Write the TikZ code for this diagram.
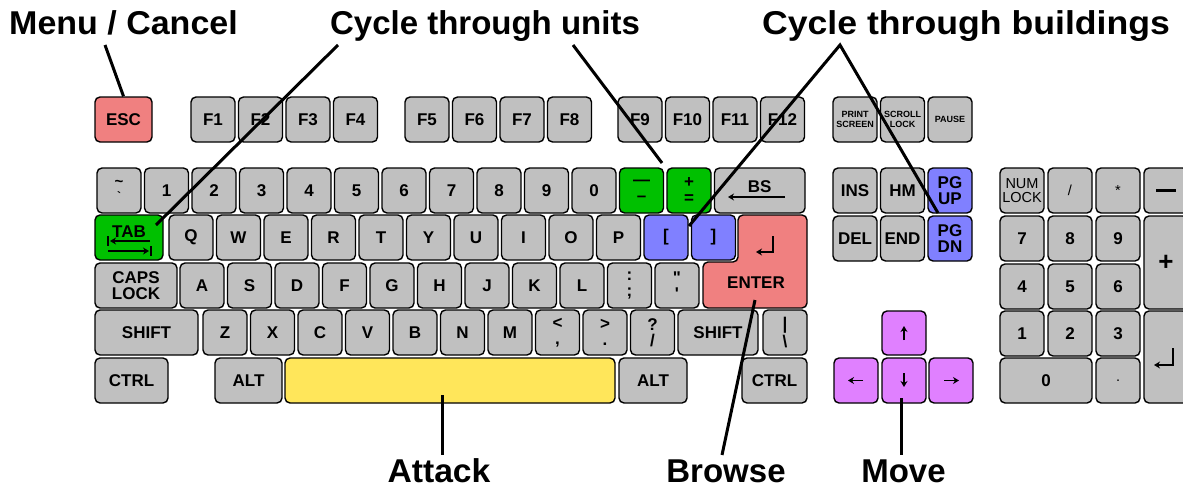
\documentclass[tikz,border=0pt]{standalone}
\usepackage{fontspec}
\setmainfont{Liberation Sans}
\usetikzlibrary{arrows.meta}
\definecolor{kgray}{RGB}{192,192,192}
\definecolor{kred}{RGB}{240,128,128}
\definecolor{kgreen}{RGB}{0,192,0}
\definecolor{kblue}{RGB}{128,128,255}
\definecolor{kyellow}{RGB}{255,230,90}
\definecolor{kviolet}{RGB}{224,128,255}
\tikzset{
 keybox/.style={draw=black, line width=1.4pt, rounded corners=5pt, fill=kgray, inner sep=0pt, align=center, font=\bfseries\fontsize{17}{16}\selectfont},
 keyshape/.style={draw=black, line width=1.4pt, rounded corners=5pt},
 keytext/.style={inner sep=0pt, align=center, font=\bfseries\fontsize{17}{16}\selectfont},
 smallkey/.style={font=\bfseries\fontsize{9}{10}\selectfont},
 regkey/.style={font=\fontsize{14.5}{14}\selectfont},
 conn/.style={line width=3pt, black},
 lbl/.style={font=\bfseries\fontsize{33}{33}\selectfont, inner sep=0pt},
 glyph/.style={line width=1.8pt, -{Stealth[length=6pt,width=7pt]}},
 plainglyph/.style={line width=1.8pt},
}
\newcommand\kk[7][]{\node[keybox,#1, minimum width={(#5-#3)*1pt}, minimum height={(#6-#4)*1pt}] (#2) at ({(#3+#5)/2},{(#4+#6)/2}) {#7};}
\begin{document}
\begin{tikzpicture}[x=1pt,y=-1pt]
\useasboundingbox (0,0) rectangle (1183,487);
\fill[white] (0,0) rectangle (1183,487);
% ---- function row
\kk[fill=kred]{esc}{95}{97}{152}{142}{ESC}
\foreach \l [count=\i from 0] in {1,2,3,4} {\pgfmathsetmacro\xa{191+\i*47.5}\kk{f\l}{\xa}{97}{\xa+44}{142}{F\l}}
\foreach \l [count=\i from 0] in {5,6,7,8} {\pgfmathsetmacro\xa{405+\i*47.5}\kk{f\l}{\xa}{97}{\xa+44}{142}{F\l}}
\foreach \l [count=\i from 0] in {9,10,11,12} {\pgfmathsetmacro\xa{618+\i*47.5}\kk{f\l}{\xa}{97}{\xa+44}{142}{F\l}}
\kk[smallkey]{prt}{833}{97}{877}{142}{PRINT\\SCREEN}
\kk[smallkey]{scr}{880.5}{97}{924.5}{142}{SCROLL\\LOCK}
\kk[smallkey]{pause}{928}{97}{972}{142}{PAUSE}
% ---- number row
\kk[font=\bfseries\fontsize{15}{14}\selectfont]{tilde}{97}{168}{141}{213}{\textasciitilde\\{\fontsize{12}{12}\selectfont\textasciigrave}}
\foreach \l [count=\i from 1] in {1,2,3,4,5,6,7,8,9,0} {\pgfmathsetmacro\xa{97+\i*47.5}\kk{n\l}{\xa}{168}{\xa+44}{213}{\l}}
\kk[fill=kgreen]{minus}{619.5}{168}{663.5}{213}{\textemdash\\\textendash}
\kk[fill=kgreen]{plus}{667}{168}{711}{213}{+\\=}
\kk{bs}{714.5}{168}{805}{213}{\raisebox{7pt}{BS}}
\draw[glyph] (785,197) -- (728,197);
% ---- tab row
\kk[fill=kgreen]{tab}{95}{215}{163}{260}{\raisebox{11pt}{TAB}}
\draw[glyph] (150,241) -- (110,241);
\draw[plainglyph] (108,236) -- (108,246);
\draw[glyph] (108,251) -- (149,251);
\draw[plainglyph] (151,246) -- (151,256);
\foreach \l [count=\i from 0] in {Q,W,E,R,T,Y,U,I,O,P} {\pgfmathsetmacro\xa{169+\i*47.5}\kk{k\l}{\xa}{215}{\xa+44}{260}{\l}}
\kk[fill=kblue]{lbr}{644}{215}{688}{260}{[}
\kk[fill=kblue]{rbr}{691.5}{215}{735.5}{260}{]}
% enter key
\draw[keyshape, fill=kred] (738,215) -- (807,215) -- (807,308) -- (703,308) -- (703,262) -- (738,262) -- cycle;
\node[keytext] (enter) at (756,283) {ENTER};
\draw[glyph] (773,236) -- (773,252) -- (756,252);
% ---- caps row
\kk{caps}{95}{263}{177}{308}{CAPS\\LOCK}
\foreach \l [count=\i from 0] in {A,S,D,F,G,H,J,K,L} {\pgfmathsetmacro\xa{180+\i*47.5}\kk{k\l}{\xa}{263}{\xa+44}{308}{\l}}
\kk{semi}{607.5}{263}{651.5}{308}{:\\;}
\kk{quote}{655}{263}{699}{308}{\textquotedbl\\\textquotesingle}
% ---- shift row
\kk{lshift}{95}{310}{198}{355}{SHIFT}
\foreach \l [count=\i from 0] in {Z,X,C,V,B,N,M} {\pgfmathsetmacro\xa{203+\i*47.5}\kk{k\l}{\xa}{310}{\xa+44}{355}{\l}}
\kk{comma}{535.5}{310}{579.5}{355}{<\\,}
\kk{period}{583}{310}{627}{355}{>\\.}
\kk{slash}{630.5}{310}{674.5}{355}{?\\/}
\kk{rshift}{678}{310}{758}{355}{SHIFT}
\kk{bsl}{763}{310}{807}{355}{|\\\textbackslash}
% ---- bottom row
\kk{lctrl}{95}{358}{168}{403}{CTRL}
\kk{lalt}{215}{358}{282}{403}{ALT}
\kk[fill=kyellow]{space}{285}{358}{615}{403}{}
\kk{ralt}{619}{358}{687}{403}{ALT}
\kk{rctrl}{742}{358}{807}{403}{CTRL}
% ---- navigation block
\kk{ins}{833}{168}{877}{213}{INS}
\kk{hm}{880.5}{168}{924.5}{213}{HM}
\kk[fill=kblue]{pgup}{928}{168}{972}{213}{PG\\UP}
\kk{del}{833}{216}{877}{261}{DEL}
\kk{end}{880.5}{216}{924.5}{261}{END}
\kk[fill=kblue]{pgdn}{928}{216}{972}{261}{PG\\DN}
% ---- arrow keys
\kk[fill=kviolet]{up}{882}{311}{926}{355}{}
\kk[fill=kviolet]{left}{834}{358}{878}{403}{}
\kk[fill=kviolet]{down}{882}{358}{926}{403}{}
\kk[fill=kviolet]{right}{929}{358}{973}{403}{}
\draw[glyph] (904,340) -- (904,326);
\draw[glyph] (904,373) -- (904,387);
\draw[glyph] (863,380.5) -- (848,380.5);
\draw[glyph] (944,380.5) -- (959,380.5);
% ---- numeric keypad
\kk[regkey]{numlock}{1000}{168}{1044}{213}{NUM\\LOCK}
\kk[regkey]{kpdiv}{1048}{168}{1092}{213}{/}
\kk[regkey]{kpmul}{1096}{168}{1140}{213}{*}
\kk{kpminus}{1144}{168}{1188}{213}{\rule{20pt}{3pt}}
\kk{kp7}{1000}{216}{1044}{261}{7}
\kk{kp8}{1048}{216}{1092}{261}{8}
\kk{kp9}{1096}{216}{1140}{261}{9}
\kk[font=\bfseries\fontsize{26}{26}\selectfont]{kpplus}{1144}{216}{1188}{309}{+}
\kk{kp4}{1000}{264}{1044}{309}{4}
\kk{kp5}{1048}{264}{1092}{309}{5}
\kk{kp6}{1096}{264}{1140}{309}{6}
\kk{kp1}{1000}{311}{1044}{356}{1}
\kk{kp2}{1048}{311}{1092}{356}{2}
\kk{kp3}{1096}{311}{1140}{356}{3}
\kk{kpenter}{1144}{311}{1188}{403}{}
\draw[glyph] (1173,348) -- (1173,365) -- (1154,365);
\kk{kp0}{1000}{358}{1092}{403}{0}
\kk[regkey]{kpdot}{1096}{358}{1140}{403}{.}
% ---- labels
\node[lbl, anchor=base] (lmenu) at (123.5,35) {\scalebox{1.03}[1]{Menu / Cancel}};
\node[lbl, anchor=base] (lunits) at (485,35) {Cycle through units};
\node[lbl, anchor=base] (lbuild) at (966,35) {\scalebox{1.08}[1]{Cycle through buildings}};
\node[lbl, anchor=base] (lattack) at (439,482) {\scalebox{1.02}[1]{Attack}};
\node[lbl, anchor=base] (lbrowse) at (726,482) {Browse};
\node[lbl, anchor=base] (lmove) at (903.5,482) {Move};
% ---- connectors
\coordinate (cm) at (105,45);
\draw[conn] (cm) -- (esc.north);
\coordinate (cu1) at (338,45);
\coordinate (cu1e) at (156,225);
\draw[conn] (cu1) -- (cu1e);
\coordinate (cu2) at (573,45);
\coordinate (cu2e) at (662,163);
\draw[conn] (cu2) -- (cu2e);
\coordinate (cb) at (840,45);
\coordinate (cbl) at (689,226);
\coordinate (cbr) at (938,213);
\draw[conn] (cbl) -- (cb) -- (cbr);
\coordinate (ca) at (442,395);
\coordinate (cae) at (442,455);
\draw[conn] (ca) -- (cae);
\coordinate (cbw) at (755,300);
\coordinate (cbwe) at (722,455);
\draw[conn] (cbw) -- (cbwe);
\coordinate (cmv) at (901,398);
\coordinate (cmve) at (901,455);
\draw[conn] (cmv) -- (cmve);
\end{tikzpicture}
\end{document}
